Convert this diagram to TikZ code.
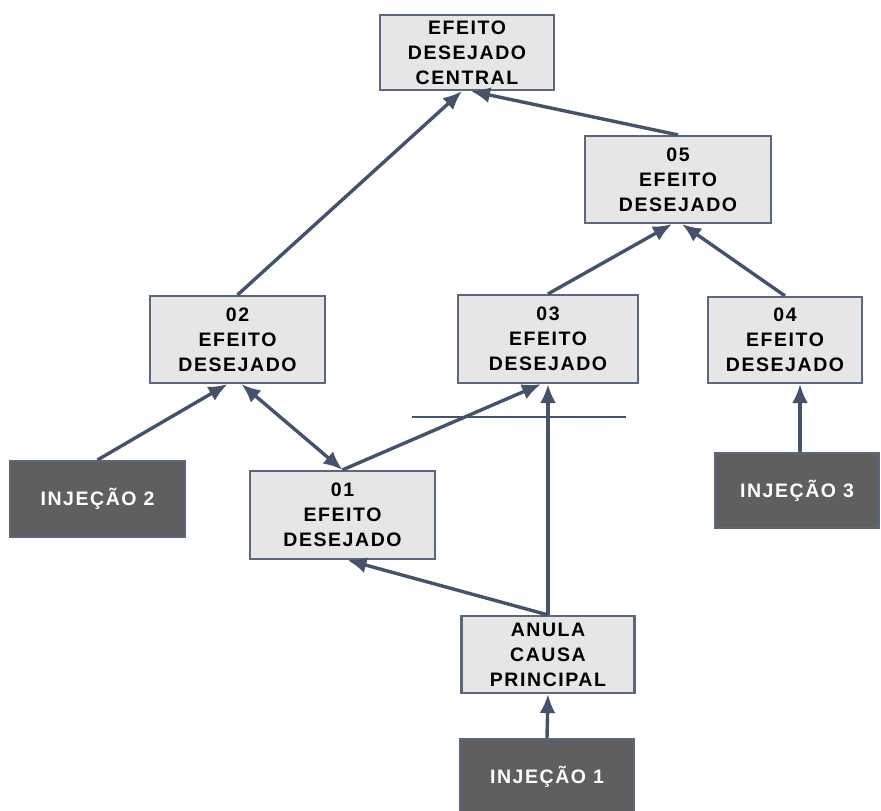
\documentclass[tikz,border=0pt]{standalone}
\usepackage{fontspec}
\setmainfont{Liberation Sans}
\newfontfamily\labelfont{Liberation Sans}[LetterSpace=8]
\usetikzlibrary{arrows.meta}
\definecolor{linkcol}{HTML}{44536A}
\definecolor{edgecol}{HTML}{5B687B}
\definecolor{lightfill}{HTML}{E6E6E6}
\definecolor{darkfill}{HTML}{5F5F5F}
\tikzset{
  effectbox/.style={draw=edgecol, line width=2.2pt, fill=lightfill, rectangle,
    align=center, inner sep=0pt,
    font=\labelfont\bfseries\fontsize{19.5}{25}\selectfont},
  injectbox/.style={draw=edgecol, line width=2.2pt, fill=darkfill, rectangle,
    align=center, inner sep=0pt, text=white,
    font=\labelfont\bfseries\fontsize{19.5}{25}\selectfont},
  link/.style={draw=linkcol, line width=3.4pt, -{Latex[length=19pt,width=16pt]}},
  twoway/.style={draw=linkcol, line width=3.4pt, {Latex[length=19pt,width=16pt]}-{Latex[length=19pt,width=16pt]}},
}
\begin{document}
\begin{tikzpicture}[x=1pt,y=-1pt]
  \clip (0,0) rectangle (881,811);
  \fill[white] (0,0) rectangle (881,811);

  % effect boxes
  \node[effectbox, minimum width=174pt, minimum height=75pt] (cen) at (467,52.5) {EFEITO\\DESEJADO\\CENTRAL};
  \node[effectbox, minimum width=186pt, minimum height=87pt] (e05) at (678,179.5) {05\\EFEITO\\DESEJADO};
  \node[effectbox, minimum width=175pt, minimum height=87pt] (e02) at (237.5,339.5) {02\\EFEITO\\DESEJADO};
  \node[effectbox, minimum width=180pt, minimum height=88pt] (e03) at (548,339) {03\\EFEITO\\DESEJADO};
  \node[effectbox, minimum width=154pt, minimum height=86pt] (e04) at (785,340) {04\\EFEITO\\DESEJADO};
  \node[effectbox, minimum width=185pt, minimum height=88pt] (e01) at (342.5,515) {01\\EFEITO\\DESEJADO};
  \node[effectbox, minimum width=173pt, minimum height=77pt] (anula) at (548,654.5) {ANULA\\CAUSA\\PRINCIPAL};

  % injection boxes
  \node[injectbox, minimum width=174pt, minimum height=76pt] (inj1) at (547,777) {INJEÇÃO 1};
  \node[injectbox, minimum width=175pt, minimum height=76pt] (inj2) at (97.5,499) {INJEÇÃO 2};
  \node[injectbox, minimum width=164pt, minimum height=75pt] (inj3) at (797,490.5) {INJEÇÃO 3};

  % connectors
  \draw[link] (e02.north) -- ([xshift=-5pt]cen.south);
  \draw[link] (e05.north) -- ([xshift=4pt]cen.south);
  \draw[link] (e03.north) -- ([xshift=-6pt]e05.south);
  \draw[link] (e04.north) -- ([xshift=4pt]e05.south);
  \draw[link] (inj2.north) -- ([xshift=-10pt]e02.south);
  \draw[twoway] ([xshift=4pt]e02.south) -- (e01.north);
  \draw[link] (e01.north) -- ([xshift=-7pt]e03.south);
  \draw[link] (anula.north) -- (e03.south);
  \draw[link] (anula.north) -- ([xshift=5pt]e01.south);
  \draw[link] (inj1.north) -- (anula.south);
  \draw[link] ([xshift=3pt]inj3.north) -- ([xshift=15pt]e04.south);

  % cut line across the links into 03
  \coordinate (cutL) at (412,417);
  \coordinate (cutR) at (626,417);
  \draw[linkcol, line width=1.8pt] (cutL) -- (cutR);
\end{tikzpicture}
\end{document}
